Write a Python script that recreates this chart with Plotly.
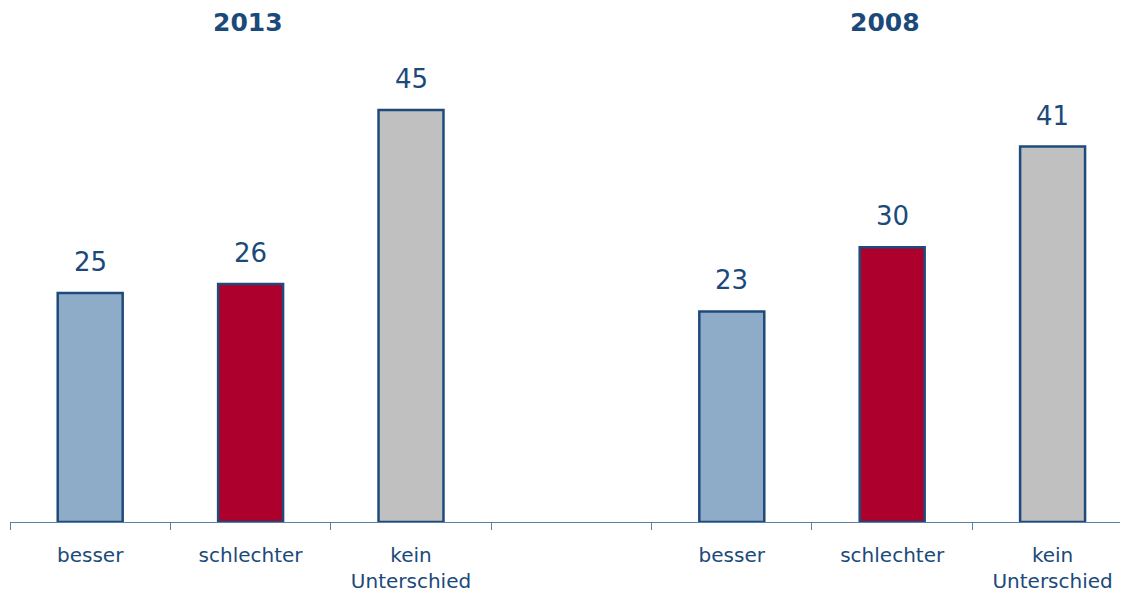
import plotly.graph_objects as go

categories = ["b13", "s13", "k13", "gap", "b08", "s08", "k08"]
tick_labels = ["besser", "schlechter", "kein<br>Unterschied", "", "besser", "schlechter", "kein<br>Unterschied"]
bar_cats = ["b13", "s13", "k13", "b08", "s08", "k08"]
values = [25, 26, 45, 23, 30, 41]
bar_colors = ["#8eacc8", "#ad002c", "#c0c0c0", "#8eacc8", "#ad002c", "#c0c0c0"]
group_titles = ["2013", "2008"]
group_title_cats = ["s13", "s08"]

TEXT = "#1b4a7a"
NAVY = "#1f4a7c"

fig = go.Figure()
fig.add_trace(go.Bar(
    x=bar_cats, y=values,
    marker=dict(color=bar_colors, line=dict(color=NAVY, width=2.5)),
    width=0.405,
    hoverinfo="skip",
))

annotations = []
for c, v in zip(bar_cats, values):
    annotations.append(dict(x=c, y=v, xref="x", yref="y", text=str(v), showarrow=False,
                            yanchor="bottom", yshift=14,
                            font=dict(family="DejaVu Sans", size=26, color=TEXT)))
for t, c, xs in zip(group_titles, group_title_cats, [-3, -7]):
    annotations.append(dict(x=c, y=1, xref="x", yref="paper", text="<b>%s</b>" % t, showarrow=False,
                            yanchor="middle", yshift=38, xshift=xs,
                            font=dict(family="DejaVu Sans", size=25, color=TEXT)))

fig.update_layout(
    width=1128, height=594,
    margin=dict(l=2, r=0, t=52, b=80),
    paper_bgcolor="white", plot_bgcolor="white",
    showlegend=False,
    annotations=annotations,
    xaxis=dict(
        type="category", categoryorder="array", categoryarray=categories,
        tickmode="array", tickvals=categories, ticktext=tick_labels,
        tickson="boundaries", ticks="outside", ticklen=7, tickcolor="#5a80a8", tickwidth=1,
        ticklabelstandoff=15,
        showline=True, linecolor="#5a80a8", linewidth=1.2,
        showgrid=False, zeroline=False,
        range=[-0.5, 6.52],
        tickfont=dict(family="DejaVu Sans", size=20, color=TEXT),
        automargin=False,
    ),
    yaxis=dict(range=[0, 50.46], visible=False, showgrid=False, zeroline=False),
)

fig.write_html("out.html")
